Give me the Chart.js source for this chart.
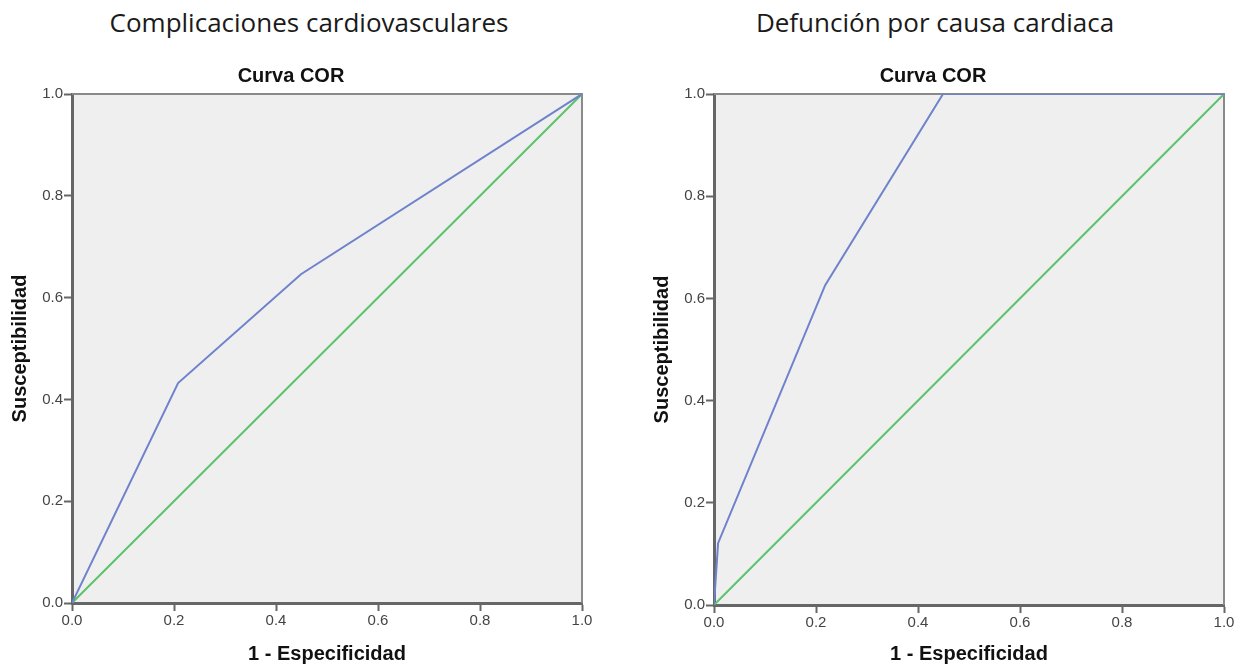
<!DOCTYPE html>
<html>
<head>
<meta charset="utf-8">
<script src="https://cdn.jsdelivr.net/npm/chart.js@4"></script>
<style>
  body { margin: 0; background: #fff; width: 1244px; height: 666px; overflow: hidden; position: relative; }
  .head { position: absolute; top: 0; height: 44px; line-height: 44px; width: 618px; text-align: center;
          font-family: "Open Sans", sans-serif; font-size: 26px; color: #1a1a1a; }
  canvas { position: absolute; top: 50px; }
</style>
</head>
<body>
<div class="head" style="left:0">Complicaciones cardiovasculares</div>
<div class="head" style="left:626px">Defunción por causa cardiaca</div>
<canvas id="rocLeft" width="610" height="616" style="left:0"></canvas>
<canvas id="rocRight" width="602" height="616" style="left:642px"></canvas>
<script>
// tick values shared by both axes
const tickValues = [0, 0.2, 0.4, 0.6, 0.8, 1.0];

// Complicaciones cardiovasculares (1 - especificidad, susceptibilidad)
const compFpr = [0, 0.208, 0.449, 1];
const compTpr = [0, 0.432, 0.646, 1];

// Defunción por causa cardiaca
const deathFpr = [0, 0.008, 0.218, 0.449, 1];
const deathTpr = [0, 0.121, 0.626, 1, 1];

// reference diagonal
const refLine = [0, 1];

const toPoints = (xs, ys) => xs.map((x, i) => ({ x: x, y: ys[i] }));

const plotFrame = {
    id: "plotFrame",
    beforeDraw(chart) {
        const { ctx, chartArea: a } = chart;
        ctx.save();
        ctx.fillStyle = "#efefef";
        ctx.fillRect(a.left, a.top, a.right - a.left, a.bottom - a.top);
        ctx.restore();
    },
    beforeDatasetsDraw(chart) {
        const { ctx, chartArea: a } = chart;
        ctx.save();
        ctx.strokeStyle = "#8a8a8a";
        ctx.lineWidth = 2;
        ctx.beginPath();
        ctx.moveTo(a.left, a.top);
        ctx.lineTo(a.right, a.top);
        ctx.lineTo(a.right, a.bottom);
        ctx.stroke();
        ctx.restore();
    }
};

function makeRoc(id, fpr, tpr, rightPad, xHeight) {
    const axisFont = { family: "Liberation Sans, Arial, sans-serif", size: 20, weight: "bold" };
    const tickFont = { family: "Liberation Sans, Arial, sans-serif", size: 15 };
    const gridOpts = { drawOnChartArea: false, drawTicks: true, tickLength: 8, tickWidth: 2, tickColor: "#666" };
    new Chart(document.getElementById(id), {
        type: "scatter",
        data: {
            datasets: [
                {
                    data: toPoints(fpr, tpr),
                    showLine: true,
                    borderColor: "#6f82cc",
                    borderWidth: 2,
                    pointRadius: 0,
                    tension: 0
                },
                {
                    data: toPoints(refLine, refLine),
                    showLine: true,
                    borderColor: "#5cc36a",
                    borderWidth: 2,
                    pointRadius: 0,
                    tension: 0
                }
            ]
        },
        options: {
            responsive: false,
            animation: false,
            layout: { padding: { right: rightPad } },
            plugins: {
                legend: { display: false },
                tooltip: { enabled: false },
                title: {
                    display: true,
                    text: "Curva COR",
                    color: "#111",
                    font: axisFont,
                    padding: { top: 14, bottom: 6 }
                }
            },
            scales: {
                x: {
                    type: "linear",
                    min: 0,
                    max: 1,
                    afterBuildTicks: s => { s.ticks = tickValues.map(v => ({ value: v })); },
                    afterFit: s => { s.height = xHeight; },
                    ticks: { callback: v => v.toFixed(1), font: tickFont, color: "#444", padding: 1, maxRotation: 0 },
                    grid: gridOpts,
                    border: { color: "#666", width: 3 },
                    title: { display: true, text: "1 - Especificidad", color: "#111", font: axisFont, padding: { top: 4, bottom: 0 } }
                },
                y: {
                    type: "linear",
                    min: 0,
                    max: 1,
                    afterBuildTicks: s => { s.ticks = tickValues.map(v => ({ value: v })); },
                    afterFit: s => { s.width = 72; },
                    ticks: { callback: v => v.toFixed(1), font: tickFont, color: "#444", padding: 1 },
                    grid: gridOpts,
                    border: { color: "#666", width: 3 },
                    title: { display: true, text: "Susceptibilidad", color: "#111", font: axisFont, padding: { top: 8, bottom: 0 } }
                }
            }
        },
        plugins: [plotFrame]
    });
}

makeRoc("rocLeft", compFpr, compTpr, 28, 63);
makeRoc("rocRight", deathFpr, deathTpr, 20, 61);
</script>
</body>
</html>
